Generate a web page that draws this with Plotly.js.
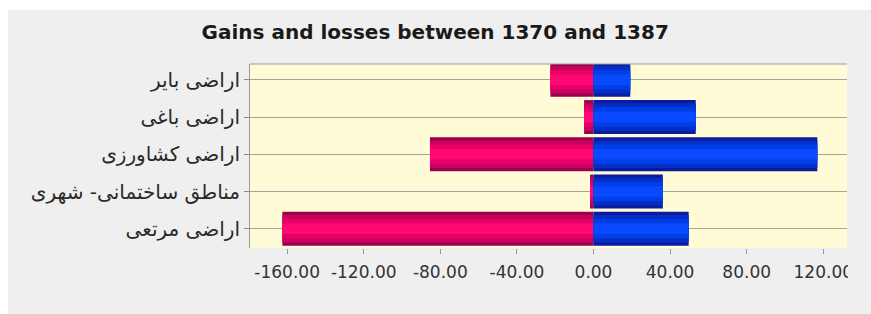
<!DOCTYPE html>
<html>
<head>
<meta charset="utf-8">
<script src="https://cdn.plot.ly/plotly-3.0.1.min.js"></script>
<style>
html,body{margin:0;padding:0;background:#ffffff;width:871px;height:314px;overflow:hidden;}
#chart{position:absolute;left:8px;top:10px;width:863px;height:304px;}
</style>
</head>
<body>
<div id="chart"></div>
<script>
var categories = ["اراضی بایر", "اراضی باغی", "اراضی کشاورزی", "مناطق ساختمانی- شهری", "اراضی مرتعی"];
var losses = [-22.5, -4.9, -85.4, -1.8, -162.5];
var gains = [19.2, 53.4, 116.9, 36.2, 49.7];
var xTicks = [-160, -120, -80, -40, 0, 40, 80, 120];
var xTickLabels = xTicks.map(function (v) { return v.toFixed(2); });

// layered bars to imitate the cylindrical shading
var lossShades = ["#9c004c", "#c8005e", "#e8006a", "#ff0a72"];
var gainShades = ["#0a1c9c", "#052ec8", "#003ee6", "#0a4aff"];
var widths = [0.91, 0.74, 0.52, 0.28];

var traces = [];
function addSeries(values, shades, name) {
  for (var i = 0; i < widths.length; i++) {
    traces.push({
      type: "bar",
      orientation: "h",
      name: name,
      y: categories,
      x: values,
      width: widths[i],
      marker: {color: shades[i], line: {width: 0}},
      hoverinfo: "x+y",
      showlegend: false
    });
  }
}
addSeries(losses, lossShades, "losses");
addSeries(gains, gainShades, "gains");

var layout = {
  width: 863,
  height: 304,
  paper_bgcolor: "#efefef",
  plot_bgcolor: "#fffbd6",
  barmode: "overlay",
  margin: {l: 242, r: 24, t: 54, b: 66, pad: 0},
  title: {
    text: "<b>Gains and losses between 1370 and 1387</b>",
    font: {family: "DejaVu Sans, sans-serif", size: 20, color: "#1a1a1a"},
    x: 0.495, xref: "container", xanchor: "center",
    y: 0.928, yref: "container", yanchor: "middle"
  },
  xaxis: {
    range: [-179.4, 132.4],
    tickvals: xTicks,
    ticktext: xTickLabels,
    ticks: "outside",
    ticklen: 5,
    tickcolor: "#8c98b8",
    showgrid: false,
    zeroline: false,
    showline: false,
    ticklabelstandoff: 4,
    tickfont: {family: "DejaVu Sans, sans-serif", size: 17, color: "#333333"}
  },
  yaxis: {
    type: "category",
    categoryorder: "array",
    categoryarray: categories,
    range: [4.515, -0.424],
    ticks: "outside",
    ticklen: 5,
    tickcolor: "#8a8a8a",
    showgrid: true,
    gridcolor: "#a6a39a",
    gridwidth: 1,
    showline: true,
    linecolor: "#9a9a9a",
    linewidth: 1,
    mirror: false,
    zeroline: false,
    tickfont: {family: "DejaVu Sans, Noto Sans, sans-serif", size: 20, color: "#2a2a2a"}
  },
  shapes: [{
    type: "line", xref: "paper", yref: "paper",
    x0: 0, x1: 1, y0: 1, y1: 1,
    line: {color: "#9a9a9a", width: 1}
  }, {
    type: "rect", xref: "paper", yref: "paper", layer: "above",
    x0: 1.0015, x1: 1.1, y0: -0.4, y1: -0.005,
    fillcolor: "#efefef", line: {width: 0}
  }]
};

Plotly.newPlot("chart", traces, layout, {displayModeBar: false, staticPlot: true});
</script>
</body>
</html>
